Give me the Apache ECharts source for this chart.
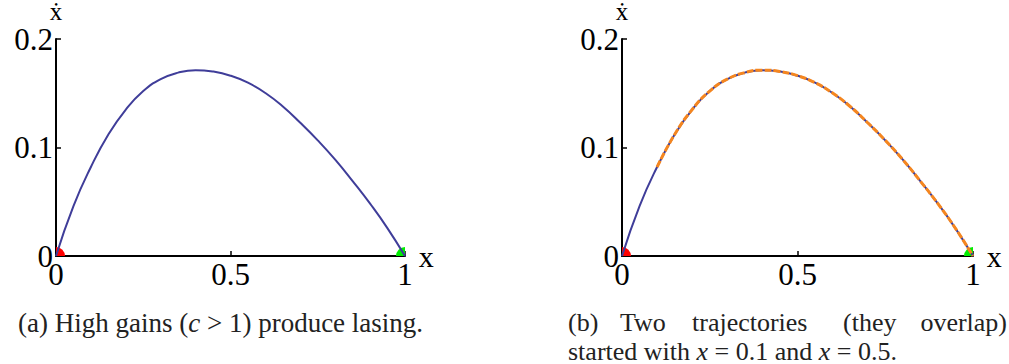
<!DOCTYPE html>
<html>
<head>
<meta charset="utf-8">
<script src="https://cdn.jsdelivr.net/npm/echarts@6/dist/echarts.min.js"></script>
<style>
  html, body { margin: 0; padding: 0; background: #fff; }
  #chart { width: 1009px; height: 364px; }
</style>
</head>
<body>
<div id="chart"></div>
<script>
// Phase portrait of the laser model: x versus its rate of change.
const stateX = [0, 0.05, 0.10, 0.15, 0.20, 0.25, 0.30, 0.35, 0.40, 0.45, 0.50,
                0.55, 0.60, 0.65, 0.70, 0.75, 0.80, 0.85, 0.90, 0.95, 1.00];
const stateRate = [0, 0.046, 0.082, 0.112, 0.135, 0.152, 0.1630, 0.1690, 0.1713, 0.1700, 0.1662,
                   0.1597, 0.1502, 0.1378, 0.1228, 0.1066, 0.0888, 0.0690, 0.0482, 0.0255, 0];

// Second trajectory (panel b) begins at this x.
const secondStartX = 0.1;

// Fixed points: unstable origin, stable lasing state.
const fixedX = [0, 1];
const fixedY = [0, 0];
const fixedColors = ['#ff0000', '#00ee00'];

const xTicks = [0, 0.5, 1];
const xTickText = ['0', '0.5', '1'];
const yTicks = [0, 0.1, 0.2];
const yTickText = ['0', '0.1', '0.2'];

const SERIF = "'Liberation Serif', 'Times New Roman', serif";
const BLUE = '#3f3d99';
const ORANGE = '#f5861f';

const curve = stateX.map((x, i) => [x, stateRate[i]]);
const secondCurve = curve.filter(p => p[0] >= secondStartX - 1e-9);

function tickText(ticks, texts) {
  return v => {
    const i = ticks.findIndex(t => Math.abs(t - v) < 1e-9);
    return i >= 0 ? texts[i] : '';
  };
}

function makeX(gridIndex) {
  return {
    type: 'value', gridIndex, min: 0, max: 1, interval: 0.5,
    name: 'x', nameLocation: 'end', nameGap: 9,
    nameTextStyle: { fontFamily: SERIF, fontSize: 30, lineHeight: 22, color: '#000', verticalAlign: 'middle' },
    axisLine: { show: true, onZero: false, lineStyle: { color: '#000', width: 2 } },
    axisTick: { show: true, inside: true, length: 5, lineStyle: { color: '#000', width: 1.5 } },
    axisLabel: { show: true, margin: 7, lineHeight: 22, fontFamily: SERIF, fontSize: 31, color: '#000',
                 formatter: tickText(xTicks, xTickText) },
    splitLine: { show: false }
  };
}

function makeY(gridIndex) {
  return {
    type: 'value', gridIndex, min: 0, max: 0.2, interval: 0.1,
    name: '\u1E8B', nameLocation: 'end', nameGap: 10,
    nameTextStyle: { fontFamily: SERIF, fontSize: 25, lineHeight: 22, color: '#000', align: 'center' },
    axisLine: { show: true, onZero: false, lineStyle: { color: '#000', width: 2 } },
    axisTick: { show: true, inside: true, length: 5, lineStyle: { color: '#000', width: 1.5 } },
    axisLabel: { show: true, margin: 3, lineHeight: 10, fontFamily: SERIF, fontSize: 31, color: '#000',
                 formatter: tickText(yTicks, yTickText) },
    splitLine: { show: false }
  };
}

// Quarter-disc markers: only the part inside the first-quadrant plot area shows.
function fixedPointSeries(gridIndex) {
  return {
    type: 'custom', xAxisIndex: gridIndex, yAxisIndex: gridIndex, z: 1,
    data: fixedX.map((x, i) => [x, fixedY[i], i]),
    renderItem: (params, api) => {
      const c = api.coord([api.value(0), api.value(1)]);
      const i = api.value(2);
      const left = i === 0;
      return {
        type: 'sector',
        shape: {
          cx: c[0], cy: c[1], r0: 0, r: 9,
          startAngle: left ? -Math.PI / 2 : Math.PI,
          endAngle: left ? 0 : Math.PI * 1.5,
          clockwise: true
        },
        style: { fill: fixedColors[i] }
      };
    }
  };
}

const chart = echarts.init(document.getElementById('chart'), null, { renderer: 'svg' });

function caption(text, left, top, size, align) {
  const base = { fontFamily: SERIF, fontSize: size, lineHeight: 24, fill: '#222' };
  return {
    type: 'text', x: left, y: top,
    style: Object.assign({ text, align: align || 'left', verticalAlign: 'middle',
                           rich: { i: Object.assign({ fontStyle: 'italic' }, base) } }, base)
  };
}

const lineStyleBase = { showSymbol: false, smooth: 0.5 };

chart.setOption({
  animation: false,
  grid: [
    { left: 56, top: 39, width: 349, height: 217, outerBoundsMode: 'none', containLabel: false },
    { left: 622, top: 39, width: 351, height: 217, outerBoundsMode: 'none', containLabel: false }
  ],
  xAxis: [makeX(0), makeX(1)],
  yAxis: [makeY(0), makeY(1)],
  series: [
    Object.assign({
      type: 'line', xAxisIndex: 0, yAxisIndex: 0, data: curve,
      lineStyle: { color: BLUE, width: 2 }, z: 3
    }, lineStyleBase),
    fixedPointSeries(0),
    Object.assign({
      type: 'line', xAxisIndex: 1, yAxisIndex: 1, data: curve,
      lineStyle: { color: BLUE, width: 2 }, z: 3
    }, lineStyleBase),
    Object.assign({
      type: 'line', xAxisIndex: 1, yAxisIndex: 1, data: secondCurve,
      lineStyle: { color: ORANGE, width: 3, type: [7, 2] }, z: 4
    }, lineStyleBase),
    fixedPointSeries(1)
  ],
  graphic: [
    caption('(a) High gains ({i|c} > 1) produce lasing.', 18, 323, 27),
    caption('(b)', 568, 322, 26),
    caption('Two', 620, 322, 26),
    caption('trajectories', 692, 322, 26),
    caption('(they', 843, 322, 26),
    caption('overlap)', 1007, 322, 26, 'right'),
    caption('started with {i|x} = 0.1 and {i|x} = 0.5.', 568, 351, 26)
  ]
});
</script>
</body>
</html>
